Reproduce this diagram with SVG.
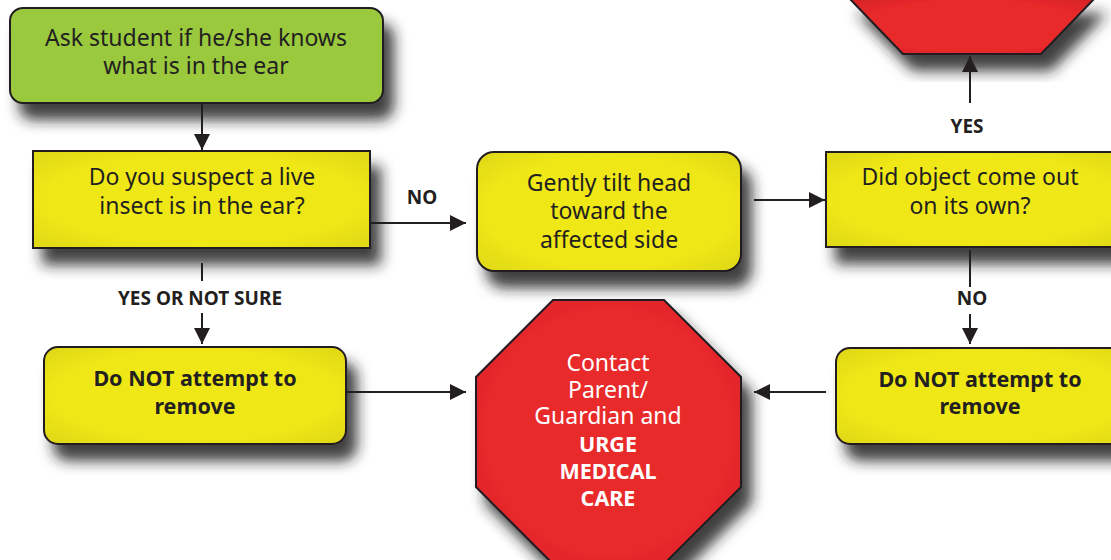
<svg xmlns="http://www.w3.org/2000/svg" width="1111" height="560" viewBox="0 0 1111 560">
  <defs>
    <filter id="shadow" x="-20%" y="-20%" width="150%" height="170%">
      <feDropShadow dx="10" dy="16" stdDeviation="7" flood-color="#1a1a1a" flood-opacity="0.85"/>
    </filter>
    <radialGradient id="yellowFill" cx="50%" cy="50%" r="65%">
      <stop offset="0.7" stop-color="#f0e818"/>
      <stop offset="1" stop-color="#e2da18"/>
    </radialGradient>
    <radialGradient id="redFill" cx="50%" cy="50%" r="65%">
      <stop offset="0.7" stop-color="#e8292a"/>
      <stop offset="1" stop-color="#d82428"/>
    </radialGradient>
    <marker id="arrow" viewBox="0 0 16 16" markerWidth="16" markerHeight="16" refX="16" refY="8" orient="auto" markerUnits="userSpaceOnUse">
      <path d="M0,0 L16,8 L0,16 Z" fill="#231f20"/>
    </marker>
    <style>
      .box { stroke: #231f20; stroke-width: 2; filter: url(#shadow); }
      .yellow { fill: url(#yellowFill); }
      .green { fill: #9ac93c; }
      .red { fill: url(#redFill); }
      .t { font-family: "Noto Sans", "Open Sans", "Liberation Sans", sans-serif; font-size: 23px; fill: #231f20; text-anchor: middle; }
      .b { font-weight: bold; font-size: 21.5px; }
      .w { fill: #ffffff; }
      .lbl { font-family: "Noto Sans", "Open Sans", "Liberation Sans", sans-serif; font-weight: bold; font-size: 19px; fill: #231f20; text-anchor: middle; }
      .link { stroke: #231f20; stroke-width: 2; fill: none; }
    </style>
  </defs>

  <rect width="1111" height="560" fill="#ffffff"/>

  <!-- partially visible stop sign at the top right -->
  <g id="top-stop">
    <polygon class="box red" points="849,-2 903,54 1041,54 1095,-2"/>
  </g>

  <g id="ask-student">
    <rect class="box green" x="10" y="8" width="373" height="95" rx="13"/>
    <text class="t" x="196" y="46">Ask student if he/she knows</text>
    <text class="t" x="196" y="74">what is in the ear</text>
  </g>

  <g id="live-insect">
    <rect class="box yellow" x="33" y="151" width="337" height="97"/>
    <text class="t" x="202" y="185">Do you suspect a live</text>
    <text class="t" x="202" y="214">insect is in the ear?</text>
  </g>

  <g id="tilt-head">
    <rect class="box yellow" x="477" y="152" width="264" height="119" rx="17"/>
    <text class="t" x="609" y="191">Gently tilt head</text>
    <text class="t" x="609" y="219">toward the</text>
    <text class="t" x="609" y="248">affected side</text>
  </g>

  <g id="object-out">
    <rect class="box yellow" x="826" y="152" width="300" height="95"/>
    <text class="t" x="970" y="185">Did object come out</text>
    <text class="t" x="970" y="214">on its own?</text>
  </g>

  <g id="do-not-left">
    <rect class="box yellow" x="44" y="347" width="302" height="97" rx="14"/>
    <text class="t b" x="195" y="386">Do NOT attempt to</text>
    <text class="t b" x="195" y="414">remove</text>
  </g>

  <g id="do-not-right">
    <rect class="box yellow" x="836" y="348" width="300" height="96" rx="14"/>
    <text class="t b" x="980" y="387">Do NOT attempt to</text>
    <text class="t b" x="980" y="414">remove</text>
  </g>

  <g id="medical-care">
    <polygon class="box red" points="553,300 664,300 741,377 741,487 664,564 553,564 476,487 476,377"/>
    <text class="t w" x="608" y="371">Contact</text>
    <text class="t w" x="608" y="398">Parent/</text>
    <text class="t w" x="608" y="424">Guardian and</text>
    <text class="t b w" x="608" y="452">URGE</text>
    <text class="t b w" x="608" y="479">MEDICAL</text>
    <text class="t b w" x="608" y="506">CARE</text>
  </g>

  <g id="connectors">
    <line class="link" x1="202" y1="103" x2="202" y2="150" marker-end="url(#arrow)"/>
    <line class="link" x1="370" y1="223" x2="466" y2="223" marker-end="url(#arrow)"/>
    <line class="link" x1="754" y1="200" x2="825" y2="200" marker-end="url(#arrow)"/>
    <line class="link" x1="970" y1="103" x2="970" y2="56" marker-end="url(#arrow)"/>
    <line class="link" x1="970" y1="250" x2="970" y2="287"/>
    <line class="link" x1="970" y1="314" x2="970" y2="344" marker-end="url(#arrow)"/>
    <line class="link" x1="202" y1="263" x2="202" y2="281"/>
    <line class="link" x1="202" y1="313" x2="202" y2="344" marker-end="url(#arrow)"/>
    <line class="link" x1="346" y1="392" x2="466" y2="392" marker-end="url(#arrow)"/>
    <line class="link" x1="826" y1="392" x2="754" y2="392" marker-end="url(#arrow)"/>

    <rect x="95" y="281" width="201" height="31" fill="#ffffff"/>
    <text class="lbl" x="200" y="305">YES OR NOT SURE</text>
    <text class="lbl" x="422" y="204">NO</text>
    <text class="lbl" x="967" y="133">YES</text>
    <text class="lbl" x="972" y="305">NO</text>
  </g>
</svg>
